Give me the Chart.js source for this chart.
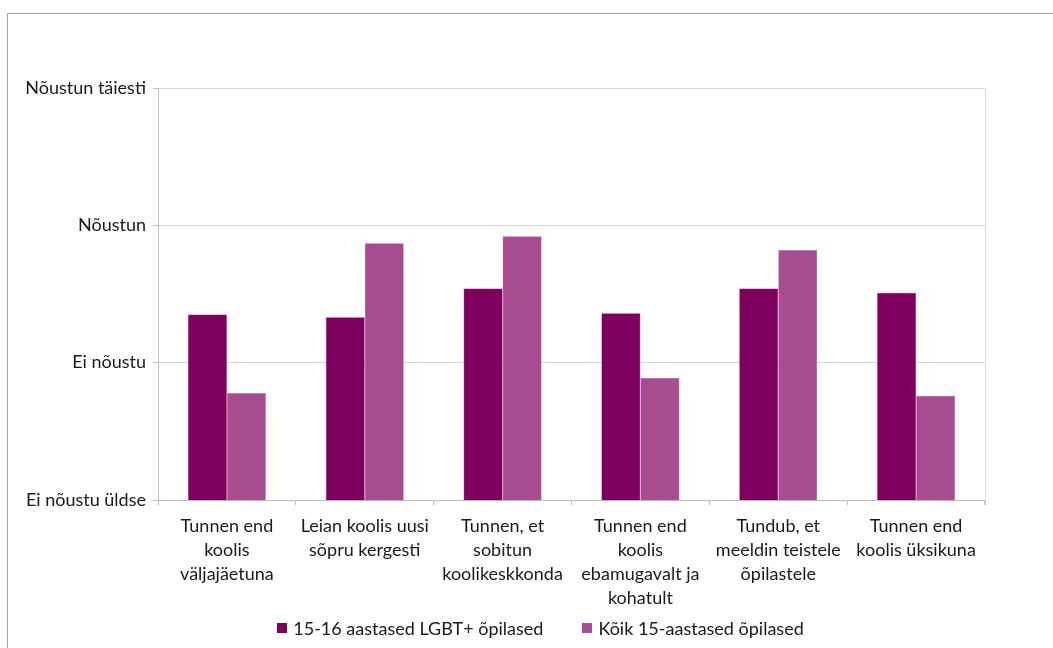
<!DOCTYPE html>
<html>
<head>
<meta charset="utf-8">
<script src="https://cdn.jsdelivr.net/npm/chart.js@4/dist/chart.umd.min.js"></script>
<style>
  html, body { margin: 0; padding: 0; background: #fff; }
  #wrap { position: relative; width: 1053px; height: 648px; overflow: hidden; }
  #frame { position: absolute; left: 7px; top: 13px; width: 1100px; height: 700px; border: 1px solid #a6a6a6; box-sizing: border-box; }
  #c { position: absolute; left: 0; top: 0; }
</style>
</head>
<body>
<div id="wrap">
  <div id="frame"></div>
  <canvas id="c" width="1053" height="648"></canvas>
</div>
<script>
const categories = [
  ["Tunnen end", "koolis", "väljajäetuna"],
  ["Leian koolis uusi", "sõpru kergesti"],
  ["Tunnen, et", "sobitun", "koolikeskkonda"],
  ["Tunnen end", "koolis", "ebamugavalt ja", "kohatult"],
  ["Tundub, et", "meeldin teistele", "õpilastele"],
  ["Tunnen end", "koolis üksikuna"]
];
const seriesNames = ["15-16 aastased LGBT+ õpilased", "Kõik 15-aastased õpilased"];
const lgbtValues = [2.35, 2.33, 2.54, 2.36, 2.54, 2.51];
const allValues = [1.78, 2.87, 2.92, 1.89, 2.82, 1.76];
const yTickLabels = { 1: "Ei nõustu üldse", 2: "Ei nõustu", 3: "Nõustun", 4: "Nõustun täiesti" };

const FONT = "Lato, 'Open Sans', sans-serif";
const TEXT_COLOR = "#1a1a1a";
Chart.defaults.font.family = FONT;
Chart.defaults.color = TEXT_COLOR;

// legend drawn under the axis labels, centred like the original
const bottomLegend = {
  id: "bottomLegend",
  afterDraw(chart) {
    const ctx = chart.ctx;
    ctx.save();
    ctx.font = "18px " + FONT;
    ctx.textBaseline = "middle";
    ctx.textAlign = "left";
    const box = 10, gapText = 6, gapItems = 39, centerX = 540.5, centerY = 628;
    const items = chart.data.datasets.map(d => ({ text: d.label, color: d.backgroundColor }));
    const widths = items.map(it => box + gapText + ctx.measureText(it.text).width);
    const total = widths.reduce((a, b) => a + b, 0) + gapItems * (items.length - 1);
    let x = centerX - total / 2;
    items.forEach((it, i) => {
      ctx.fillStyle = it.color;
      ctx.fillRect(Math.round(x), centerY - 5, box, box);
      ctx.fillStyle = TEXT_COLOR;
      ctx.fillText(it.text, x + box + gapText, centerY + 1);
      x += widths[i] + gapItems;
    });
    ctx.restore();
  }
};

const rightBorder = {
  id: "rightBorder",
  afterDraw(chart) {
    const { ctx, chartArea: a } = chart;
    ctx.save();
    ctx.strokeStyle = "#d9d9d9";
    ctx.lineWidth = 1;
    ctx.beginPath();
    ctx.moveTo(a.right + 0.5, a.top);
    ctx.lineTo(a.right + 0.5, a.bottom + 5);
    ctx.stroke();
    ctx.restore();
  }
};

new Chart(document.getElementById("c"), {
  type: "bar",
  data: {
    labels: categories,
    datasets: [
      { label: seriesNames[0], data: lgbtValues, backgroundColor: "#800060", borderColor: "#8a1a6c", borderWidth: 0.5 },
      { label: seriesNames[1], data: allValues, backgroundColor: "#a84c91", borderColor: "#b86aa3", borderWidth: 0.5 }
    ]
  },
  options: {
    responsive: false,
    animation: false,
    devicePixelRatio: 1,
    layout: { padding: { left: 0, top: 88, right: 68, bottom: 0 } },
    datasets: { bar: { barPercentage: 1.0, categoryPercentage: 0.566 } },
    plugins: {
      legend: { display: false },
      tooltip: { enabled: false }
    },
    scales: {
      x: {
        offset: true,
        grid: { offset: true, drawOnChartArea: false, drawTicks: true, tickLength: 5, color: "#bfbfbf" },
        border: { color: "#bfbfbf" },
        ticks: { maxRotation: 0, autoSkip: false, padding: 9, font: { size: 18, lineHeight: 1.333 } },
        afterFit: (s) => { s.height = 148; }
      },
      y: {
        min: 1, max: 4,
        ticks: { stepSize: 1, padding: 7, font: { size: 18 }, callback: (v) => yTickLabels[v] || "" },
        grid: { color: "#d9d9d9", tickLength: 5, tickColor: "#bfbfbf" },
        border: { color: "#bfbfbf" },
        afterFit: (s) => { s.width = 158; }
      }
    }
  },
  plugins: [rightBorder, bottomLegend]
});
</script>
</body>
</html>
